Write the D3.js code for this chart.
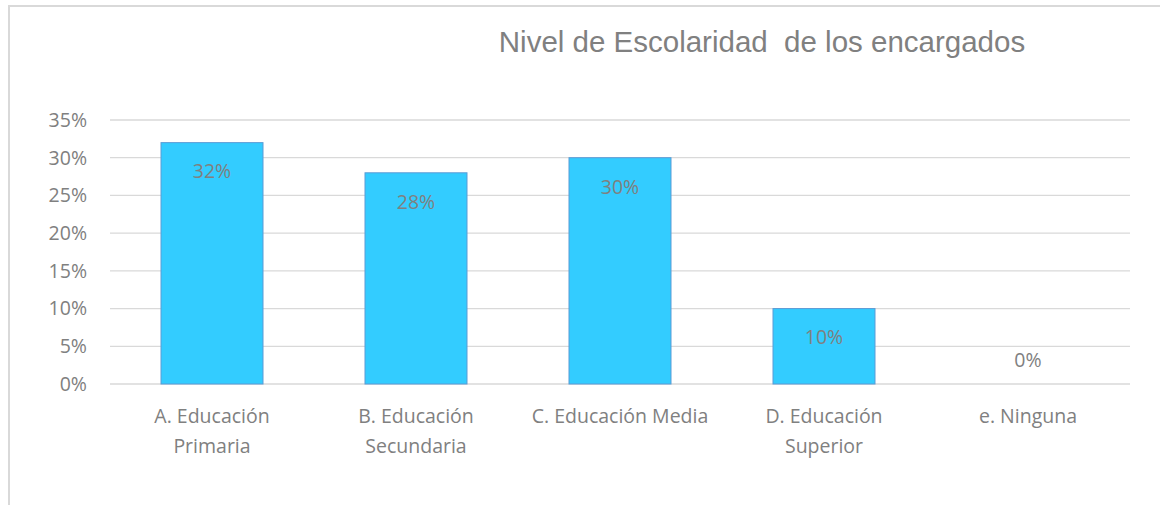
<!DOCTYPE html>
<html>
<head>
<meta charset="utf-8">
<script src="https://cdn.jsdelivr.net/npm/d3@7"></script>
<style>
  body { margin:0; background:#fff; }
  svg { display:block; }
</style>
</head>
<body>
<div id="chart-area"></div>
<script>
const categories = [["A. Educación","Primaria"],["B. Educación","Secundaria"],["C. Educación Media"],["D. Educación","Superior"],["e. Ninguna"]];
const values = [0.32, 0.28, 0.30, 0.10, 0.00];
const yTicks = [0,0.05,0.10,0.15,0.20,0.25,0.30,0.35];
const title = "Nivel de Escolaridad  de los encargados";

const width = 1160, height = 505;
const margin = {top:120, right:30, bottom:121, left:110};
const fontSize = 19.5;

var svg = d3.select("#chart-area").append("svg")
    .attr("width", width)
    .attr("height", height);

// frame
svg.append("rect")
    .attr("x", 9).attr("y", 6)
    .attr("width", 1170).attr("height", 520)
    .attr("fill", "none")
    .attr("stroke", "#d9d9d9")
    .attr("stroke-width", 2);

var x = d3.scaleBand()
    .domain(d3.range(categories.length))
    .range([margin.left, width - margin.right])
    .paddingInner(0.5).paddingOuter(0.25);

var y = d3.scaleLinear()
    .domain([0, 0.35])
    .range([height - margin.bottom, margin.top]);

// gridlines
svg.append("g").selectAll("line")
    .data(yTicks)
    .enter().append("line")
    .attr("x1", margin.left).attr("x2", width - margin.right)
    .attr("y1", d => y(d)).attr("y2", d => y(d))
    .attr("stroke", "#d9d9d9")
    .attr("stroke-width", 1.3);

// y tick labels
svg.append("g").selectAll("text")
    .data(yTicks)
    .enter().append("text")
    .attr("x", 87)
    .attr("y", d => y(d))
    .attr("dy", "0.35em")
    .attr("text-anchor", "end")
    .attr("font-family", "'Open Sans', sans-serif")
    .attr("font-size", fontSize)
    .attr("fill", "#808080")
    .text(d => d3.format(".0%")(d));

// bars
svg.append("g").selectAll("rect")
    .data(values)
    .enter().append("rect")
    .attr("x", (d,i) => x(i))
    .attr("y", d => y(d))
    .attr("width", x.bandwidth())
    .attr("height", d => y(0) - y(d))
    .attr("fill", "#33ccff")
    .attr("stroke", d => d > 0 ? "#5b9bd5" : "none")
    .attr("stroke-width", 1);

// value labels
svg.append("g").selectAll("text")
    .data(values)
    .enter().append("text")
    .attr("x", (d,i) => x(i) + x.bandwidth()/2)
    .attr("y", d => d > 0 ? y(d) + 29 : y(d) - 24)
    .attr("dy", "0.35em")
    .attr("text-anchor", "middle")
    .attr("font-family", "'Open Sans', sans-serif")
    .attr("font-size", fontSize)
    .attr("fill", "#808080")
    .text(d => d3.format(".0%")(d));

// category labels
var cat = svg.append("g").selectAll("text")
    .data(categories)
    .enter().append("text")
    .attr("text-anchor", "middle")
    .attr("font-family", "'Open Sans', sans-serif")
    .attr("font-size", fontSize)
    .attr("fill", "#808080");

cat.each(function(lines, i) {
    d3.select(this).selectAll("tspan")
        .data(lines)
        .enter().append("tspan")
        .attr("x", x(i) + x.bandwidth()/2)
        .attr("y", (d,j) => 416 + j*30)
        .attr("dy", "0.35em")
        .text(d => d);
});

// title
svg.append("text")
    .attr("x", 762)
    .attr("y", 52)
    .attr("text-anchor", "middle")
    .attr("font-family", "'Liberation Sans', Arial, sans-serif")
    .attr("font-size", 29.5)
    .attr("fill", "#808080")
    .attr("xml:space", "preserve")
    .style("white-space", "pre")
    .text(title);
</script>
</body>
</html>
